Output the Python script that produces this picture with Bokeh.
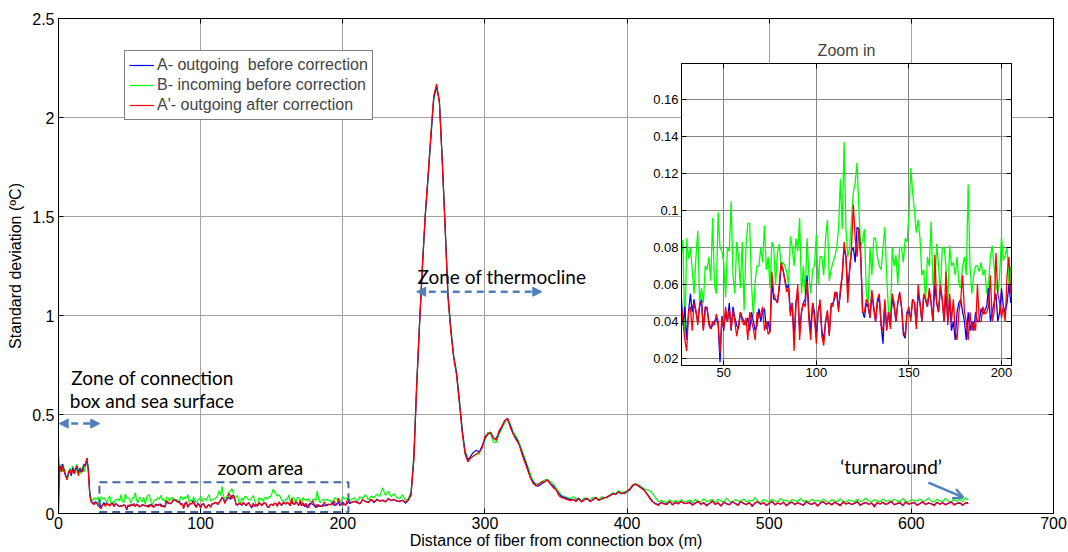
from bokeh.plotting import figure
from bokeh.layouts import column
from bokeh.models import (Range1d, LinearAxis, FixedTicker, CustomJSTickFormatter, Legend,
                          LegendItem, Label, Arrow, NormalHead, OpenHead, BoxAnnotation)
from bokeh.embed import file_html
from bokeh.resources import INLINE

# ---------------- data ----------------
# distance along fibre (m)
dist_near = list(range(0, 27))          # connection box zone, 1 m
dist_zoom = list(range(27, 206))        # zoom area, 1 m
dist_far = list(range(206, 641, 2))     # rest of the cable, 2 m

# A- outgoing before correction (blue)
a_near = [.20, .24, .22, .25, .21, .19, .18, .20, .22, .19, .23, .21, .22, .24, .20, .23, .21, .22,
          .25, .24, .28, .22, .10, .06, .055, .05, .06]
a_zoom = [
    .055, .038, .048, .030, .045, .055, .045, .052, .045, .040,
    .048, .052, .036, .048, .047, .040, .036, .038, .040, .042,
    .038, .018, .043, .035, .045, .040, .050, .035, .048, .042,
    .038, .036, .045, .042, .040, .038, .042, .035, .045, .040,
    .035, .038, .047, .040, .045, .047, .036, .040, .034, .062,
    .052, .052, .050, .058, .070, .068, .063, .058, .060, .045,
    .050, .030, .050, .055, .035, .045, .050, .052, .065, .045,
    .035, .050, .045, .032, .045, .050, .035, .030, .040, .045,
    .033, .048, .050, .053, .056, .047, .055, .065, .080, .075,
    .058, .068, .078, .080, .072, .091, .090, .075, .045, .042,
    .050, .048, .042, .055, .047, .040, .050, .053, .038, .028,
    .050, .036, .045, .038, .052, .048, .040, .050, .055, .048,
    .033, .031, .045, .045, .042, .052, .050, .038, .055, .050,
    .040, .054, .052, .048, .056, .050, .040, .060, .050, .045,
    .058, .052, .040, .055, .040, .052, .035, .040, .030, .045,
    .050, .052, .045, .040, .030, .045, .035, .040, .035, .045,
    .040, .040, .047, .044, .046, .048, .058, .040, .045, .050,
    .055, .040, .045, .058, .048, .045, .050, .060, .050]
a_far = (
    [.055, .062, .058, .050, .068, .062, .057, .070, .055, .072, .063, .068, .060, .074, .066,
     .070, .064, .060, .068, .052, .066]
    + [.10, .28, .64, .95, 1.24, 1.50, 1.70, 1.90, 2.10, 2.16, 2.08, 1.78, 1.45, 1.10, .93,
       .79, .71, .57, .42, .31, .27, .29]
    + [.31, .32, .31, .34, .38, .40, .41, .38, .38, .41, .44, .47, .48, .44, .40, .38, .35, .31,
       .27, .23, .18, .16, .14, .14, .15, .16, .17, .15, .14, .12, .10, .085, .08, .075, .07]
    + [.072, .065, .078, .060, .070, .075, .062, .070, .080, .068, .072, .078, .085, .090, .100,
       .095, .110, .100, .105, .110, .120, .140, .150, .140, .130, .120, .100, .080, .060, .050,
       .045, .055, .050, .048, .060, .045, .055, .050, .060, .052]
    + [.050, .058, .045, .052, .060, .048, .055, .042, .050, .062,
       .047, .053, .040, .056, .050, .045, .058, .052, .044, .060,
       .050, .046, .055, .040, .052, .058, .048, .054, .043, .050,
       .060, .045, .052, .048, .056, .042, .050, .057, .046, .053,
       .049, .044, .058, .050, .047, .055, .041, .052, .059, .048,
       .052, .045, .056, .050, .043, .057, .049, .053, .046, .051,
       .058, .044, .050, .055, .047, .052, .040, .054, .049, .056,
       .046, .052, .060, .045, .050, .053, .042, .057, .048, .051,
       .055, .044, .049, .058, .046, .052, .050, .043, .056, .048,
       .053, .045, .051, .057, .046, .050, .054, .044, .052, .055])

# B- incoming before correction (green)
b_near = [.30, .22, .25, .21, .23, .20, .17, .19, .23, .21, .24, .22, .20, .25, .21, .22, .20, .24,
          .21, .24, .27, .23, .11, .07, .065, .08, .07]
b_zoom = [
    .075, .084, .031, .085, .074, .080, .068, .055, .075, .089,
    .050, .058, .050, .070, .068, .075, .062, .096, .060, .055,
    .099, .080, .078, .072, .053, .080, .078, .105, .065, .055,
    .083, .075, .058, .083, .046, .080, .093, .093, .060, .043,
    .062, .070, .070, .080, .072, .092, .068, .075, .058, .083,
    .080, .060, .077, .082, .070, .072, .070, .067, .060, .086,
    .080, .070, .085, .078, .096, .055, .070, .055, .085, .065,
    .055, .068, .070, .087, .060, .075, .075, .065, .085, .095,
    .062, .068, .072, .075, .080, .090, .117, .090, .137, .090,
    .075, .080, .095, .110, .115, .126, .100, .080, .084, .090,
    .055, .050, .080, .065, .085, .085, .075, .070, .068, .080,
    .091, .065, .045, .038, .080, .070, .076, .060, .080, .080,
    .072, .085, .083, .097, .123, .110, .100, .088, .095, .085,
    .065, .068, .050, .075, .070, .094, .060, .060, .082, .070,
    .055, .080, .080, .070, .050, .081, .070, .072, .065, .075,
    .060, .058, .070, .075, .065, .114, .070, .055, .065, .070,
    .070, .067, .072, .065, .068, .055, .060, .075, .081, .070,
    .060, .055, .065, .086, .073, .076, .080, .060, .070]
b_far = (
    [.070, .080, .062, .085, .075, .095, .070, .088, .080, .098, .085, .130, .092, .112, .085,
     .100, .080, .075, .095, .068, .072]
    + [.11, .30, .66, .97, 1.25, 1.50, 1.69, 1.90, 2.09, 2.15, 2.08, 1.79, 1.46, 1.12, .94,
       .80, .72, .58, .43, .32, .27, .28]
    + [.29, .30, .30, .34, .37, .41, .40, .36, .36, .40, .43, .46, .47, .45, .41, .39, .36, .32,
       .28, .24, .20, .16, .15, .15, .16, .17, .17, .16, .15, .13, .11, .09, .085, .08, .075]
    + [.085, .075, .070, .065, .080, .070, .072, .082, .075, .070, .085, .080, .078, .095, .105,
       .100, .115, .105, .110, .115, .125, .140, .145, .145, .135, .125, .120, .115, .100, .080,
       .060, .065, .060, .055, .070, .058, .065, .060, .070, .062]
    + [.060, .068, .055, .072, .062, .058, .075, .060, .066, .070,
       .055, .072, .064, .058, .078, .062, .056, .070, .065, .060,
       .074, .058, .066, .062, .080, .060, .057, .070, .064, .059,
       .072, .062, .058, .076, .063, .068, .055, .070, .066, .060,
       .078, .061, .065, .058, .072, .063, .067, .060, .074, .062,
       .057, .070, .064, .060, .075, .062, .058, .068, .065, .059,
       .072, .060, .066, .078, .062, .058, .070, .064, .060, .074,
       .061, .067, .058, .072, .064, .060, .076, .062, .058, .070,
       .065, .062, .074, .060, .066, .078, .062, .058, .072, .064,
       .060, .076, .063, .058, .070, .062, .074, .060, .080, .068])

# A'- outgoing after correction (red)
c_near = [.00, .24, .21, .24, .22, .19, .17, .21, .22, .20, .22, .20, .23, .24, .19, .23, .22, .21,
          .24, .25, .28, .21, .09, .06, .05, .045, .055]
c_zoom = [
    .050, .040, .030, .024, .045, .048, .035, .050, .046, .038,
    .050, .050, .035, .046, .048, .038, .036, .040, .038, .044,
    .040, .023, .042, .036, .048, .040, .046, .036, .046, .040,
    .032, .038, .045, .040, .038, .042, .030, .045, .040, .036,
    .030, .045, .042, .044, .048, .035, .040, .033, .035, .067,
    .055, .052, .050, .060, .072, .068, .062, .056, .058, .043,
    .050, .024, .050, .060, .030, .045, .050, .048, .062, .040,
    .030, .050, .042, .028, .045, .052, .032, .027, .040, .046,
    .032, .050, .048, .056, .055, .045, .058, .065, .083, .075,
    .050, .068, .080, .103, .085, .075, .090, .075, .045, .045,
    .052, .050, .042, .057, .048, .040, .052, .055, .038, .035,
    .052, .035, .045, .036, .055, .050, .040, .050, .056, .048,
    .035, .032, .045, .048, .040, .052, .050, .036, .060, .050,
    .040, .055, .052, .048, .058, .050, .040, .076, .050, .045,
    .060, .052, .040, .067, .038, .055, .040, .052, .035, .030,
    .045, .052, .065, .045, .040, .030, .045, .035, .040, .035,
    .060, .040, .040, .048, .044, .045, .048, .065, .040, .045,
    .077, .055, .050, .042, .048, .040, .065, .075, .055]
c_far = (
    [.058, .060, .055, .048, .070, .060, .055, .072, .058, .070, .062, .066, .058, .076, .064,
     .072, .062, .062, .066, .058, .068]
    + [.09, .27, .65, .96, 1.25, 1.51, 1.71, 1.92, 2.11, 2.17, 2.07, 1.77, 1.44, 1.09, .92,
       .79, .70, .56, .41, .30, .26, .28]
    + [.29, .30, .31, .33, .39, .40, .41, .38, .37, .42, .44, .47, .48, .43, .40, .37, .35, .30,
       .26, .22, .18, .15, .14, .15, .16, .16, .17, .15, .13, .12, .09, .08, .075, .07, .065]
    + [.070, .060, .075, .058, .072, .078, .060, .068, .082, .065, .075, .080, .082, .092, .098,
       .097, .108, .102, .100, .112, .125, .145, .148, .138, .128, .118, .098, .075, .058, .048,
       .040, .058, .048, .045, .062, .042, .058, .048, .062, .050]
    + [.052, .055, .042, .054, .062, .045, .053, .038, .052, .064,
       .045, .055, .036, .058, .048, .043, .060, .050, .040, .062,
       .052, .044, .057, .034, .054, .060, .046, .056, .040, .052,
       .062, .043, .054, .046, .058, .038, .052, .059, .044, .055,
       .047, .040, .060, .052, .045, .057, .036, .054, .061, .046,
       .054, .043, .058, .048, .038, .059, .047, .055, .044, .053,
       .060, .040, .052, .057, .045, .054, .032, .056, .047, .058,
       .044, .054, .062, .043, .052, .055, .038, .059, .046, .053,
       .057, .040, .051, .060, .044, .054, .048, .039, .058, .046,
       .055, .043, .053, .059, .042, .052, .056, .040, .054, .050])

labels = ["A- outgoing  before correction", "B- incoming before correction",
          "A'- outgoing after correction"]
colors = ["#0000ff", "#00ff00", "#ff0000"]

main_x_ticks = [0, 100, 200, 300, 400, 500, 600, 700]
main_y_ticks = [0, 0.5, 1, 1.5, 2, 2.5]
zoom_x_ticks = [50, 100, 150, 200]
zoom_y_ticks = [0.02, 0.04, 0.06, 0.08, 0.1, 0.12, 0.14, 0.16]

for arr in (a_near, b_near, c_near):
    assert len(arr) == len(dist_near), len(arr)
for arr in (a_zoom, b_zoom, c_zoom):
    assert len(arr) == len(dist_zoom), len(arr)
for arr in (a_far, b_far, c_far):
    assert len(arr) == len(dist_far), len(arr)

x_all = dist_near + dist_zoom + dist_far
series_all = [a_near + a_zoom + a_far, b_near + b_zoom + b_far, c_near + c_zoom + c_far]
series_zoom = [a_zoom, b_zoom, c_zoom]

# ---------------- styling helpers ----------------
FONT = "Liberation Sans"
NOTE_FONT = "Lato"
ARROW_C = "#4f81bd"
RECT_C = "#41679b"
num_fmt = "return String(Number(tick.toFixed(3)));"
blank_fmt = "return '';"


def style_axis(ax, size):
    ax.major_tick_in = 5
    ax.major_tick_out = 0
    ax.minor_tick_line_color = None
    ax.major_label_text_font = FONT
    ax.major_label_text_font_size = size
    ax.major_label_text_color = "black"
    ax.axis_line_color = "black"
    ax.major_tick_line_color = "black"


def add_mirror(fig, ticks, loc):
    ax = LinearAxis(ticker=FixedTicker(ticks=ticks),
                    formatter=CustomJSTickFormatter(code=blank_fmt),
                    major_label_text_font_size="1px", major_label_standoff=0,
                    major_tick_in=5, major_tick_out=0, minor_tick_line_color=None,
                    axis_line_color="black", major_tick_line_color="black")
    fig.add_layout(ax, loc)


# ---------------- main figure ----------------
p = figure(width=1068, height=552, x_range=Range1d(0, 700), y_range=Range1d(0, 2.5),
           output_backend="svg", toolbar_location=None,
           min_border_left=58, min_border_right=15, min_border_top=18, min_border_bottom=39,
           background_fill_color="white", border_fill_color="white",
           outline_line_color="black")

p.xaxis.ticker = FixedTicker(ticks=main_x_ticks)
p.yaxis.ticker = FixedTicker(ticks=main_y_ticks)
p.xaxis.formatter = CustomJSTickFormatter(code=num_fmt)
p.yaxis.formatter = CustomJSTickFormatter(code=num_fmt)
style_axis(p.xaxis[0], "16px")
style_axis(p.yaxis[0], "16px")
p.xaxis.major_label_standoff = 3
p.yaxis.major_label_standoff = 4
p.xaxis.axis_label = "Distance of fiber from connection box (m)"
p.xaxis.axis_label_standoff = 0
p.yaxis.axis_label = "Standard deviation (ºC)"
p.yaxis.axis_label_standoff = 5
for ax in (p.xaxis[0], p.yaxis[0]):
    ax.axis_label_text_font = FONT
    ax.axis_label_text_font_size = "16px"
    ax.axis_label_text_font_style = "normal"
    ax.axis_label_text_color = "black"
add_mirror(p, main_y_ticks, "right")
add_mirror(p, main_x_ticks, "above")

p.xgrid.grid_line_color = "#a3a3a3"
p.ygrid.grid_line_color = "#a3a3a3"

renderers = {}
for idx in (1, 0, 2):
    renderers[idx] = p.line(x_all, series_all[idx], line_color=colors[idx], line_width=1.2)

legend = Legend(items=[LegendItem(label=labels[i], renderers=[renderers[i]]) for i in range(3)],
                location=(66, 393))
legend.label_text_font = FONT
legend.label_text_font_size = "16px"
legend.border_line_color = "black"
legend.border_line_width = 1
legend.padding = 4
legend.spacing = 0
legend.margin = 0
legend.glyph_width = 25
legend.glyph_height = 20
legend.label_height = 20
legend.label_standoff = 3
legend.background_fill_color = "white"
legend.background_fill_alpha = 1
p.add_layout(legend)

# annotations
for txt, xx, yy, align in [("Zone of connection", 9, 0.685, "left"),
                           ("box and sea surface", 8, 0.570, "left"),
                           ("zoom area", 142, 0.232, "center"),
                           ("Zone of thermocline", 252.5, 1.195, "left"),
                           ("\u2018turnaround\u2019", 550, 0.237, "left")]:
    p.add_layout(Label(x=xx, y=yy, text=txt, text_align=align, text_baseline="middle",
                       text_font=NOTE_FONT, text_font_size="19px", text_color="black"))

p.add_layout(Arrow(x_start=0.5, y_start=0.454, x_end=29, y_end=0.454,
                   start=NormalHead(size=9, fill_color=ARROW_C, line_color=ARROW_C),
                   end=NormalHead(size=9, fill_color=ARROW_C, line_color=ARROW_C),
                   line_color=ARROW_C, line_width=2.5, line_dash="7 5"))
p.add_layout(Arrow(x_start=252, y_start=1.12, x_end=340, y_end=1.12,
                   start=NormalHead(size=9, fill_color=ARROW_C, line_color=ARROW_C),
                   end=NormalHead(size=9, fill_color=ARROW_C, line_color=ARROW_C),
                   line_color=ARROW_C, line_width=2.5, line_dash="7 5"))
p.add_layout(Arrow(x_start=612, y_start=0.156, x_end=636.5, y_end=0.081,
                   end=OpenHead(size=10, line_color=ARROW_C, line_width=2.5),
                   line_color=ARROW_C, line_width=2.5))
p.add_layout(BoxAnnotation(left=28.8, right=204, bottom=0.008, top=0.158,
                           fill_color=None, fill_alpha=0, line_color=RECT_C, line_alpha=1,
                           line_width=2, line_dash="8 5"))

# ---------------- inset ("Zoom in") ----------------
q = figure(width=403, height=370, x_range=Range1d(27.2, 205.4), y_range=Range1d(0.0162, 0.1795),
           output_backend="svg", toolbar_location=None,
           min_border_left=50, min_border_right=14, min_border_top=43, min_border_bottom=25,
           background_fill_color="white", border_fill_color=None,
           outline_line_color="black", margin=(-532, 0, 0, 623))
q.title.text = "Zoom in"
q.title.align = "center"
q.title.text_font = FONT
q.title.text_font_size = "16px"
q.title.text_font_style = "normal"
q.title.standoff = 9
q.xaxis.ticker = FixedTicker(ticks=zoom_x_ticks)
q.yaxis.ticker = FixedTicker(ticks=zoom_y_ticks)
q.xaxis.formatter = CustomJSTickFormatter(code=num_fmt)
q.yaxis.formatter = CustomJSTickFormatter(code=num_fmt)
style_axis(q.xaxis[0], "13px")
style_axis(q.yaxis[0], "13px")
q.xaxis.major_label_standoff = 2
q.yaxis.major_label_standoff = 3
add_mirror(q, zoom_y_ticks, "right")
add_mirror(q, zoom_x_ticks, "above")
q.xgrid.grid_line_color = "#858585"
q.ygrid.grid_line_color = "#858585"

for idx in (1, 0, 2):
    q.line(dist_zoom, series_zoom[idx], line_color=colors[idx], line_width=1.3)

layout = column(p, q)
open("out.html", "w").write(file_html(layout, INLINE))
